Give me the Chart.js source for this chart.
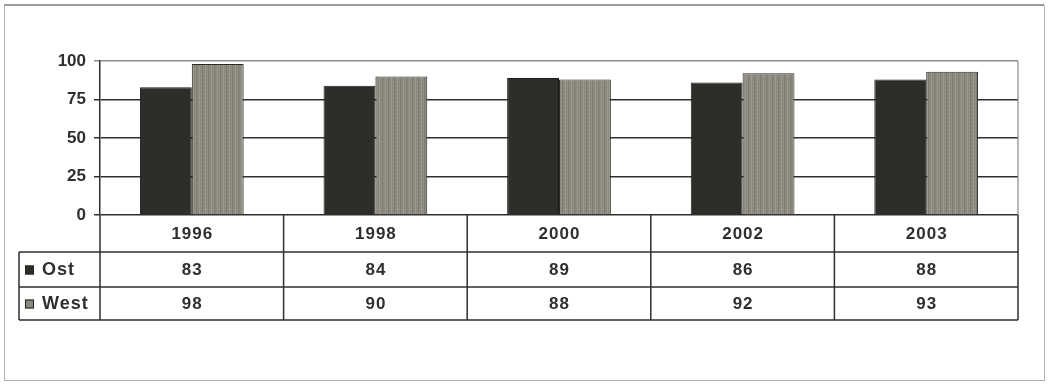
<!DOCTYPE html>
<html>
<head>
<meta charset="utf-8">
<script src="https://cdn.jsdelivr.net/npm/chart.js@4/dist/chart.umd.min.js"></script>
<style>
  html, body { margin: 0; padding: 0; background: #fff; }
  #wrap { position: relative; width: 1048px; height: 385px; }
</style>
</head>
<body>
<div id="wrap"><canvas id="c"></canvas></div>
<script>
const years = ['1996', '1998', '2000', '2002', '2003'];
const ostValues = [83, 84, 89, 86, 88];
const westValues = [98, 90, 88, 92, 93];
const seriesNames = ['Ost', 'West'];
const yTicks = [0, 25, 50, 75, 100];

const FONT = '"Liberation Sans", Arial, sans-serif';
const INK = '#2f2f2f';
const OST_COLOR = '#2e2d2a';
const WEST_COLOR = '#8c897d';

// fine vertical speckle for the West bars
function westPattern() {
  const p = document.createElement('canvas');
  p.width = 6; p.height = 4;
  const g = p.getContext('2d');
  g.fillStyle = WEST_COLOR;
  g.fillRect(0, 0, 6, 4);
  g.fillStyle = '#9a978b';
  g.fillRect(1, 0, 1, 4);
  g.fillStyle = '#7f7c71';
  g.fillRect(4, 0, 1, 4);
  g.fillStyle = '#a3a094';
  g.fillRect(3, 1, 1, 1);
  return g.createPattern(p, 'repeat');
}

// data table under the plot, aligned to the category scale
const tablePlugin = {
  id: 'dataTable',
  afterDraw(chart) {
    const ctx = chart.ctx;
    const x = chart.scales.x;
    const area = chart.chartArea;
    const n = years.length;
    const step = (area.right - area.left) / n;
    const top = area.bottom;
    const rowH = [37, 35, 33];
    const y1 = top + rowH[0];
    const y2 = y1 + rowH[1];
    const y3 = y2 + rowH[2];
    const legendLeft = 19;

    ctx.save();
    ctx.strokeStyle = INK;
    ctx.lineWidth = 1.5;
    ctx.beginPath();
    // vertical cell separators
    for (let i = 0; i <= n; i++) {
      const vx = area.left + i * step;
      ctx.moveTo(vx, top);
      ctx.lineTo(vx, y3);
    }
    // horizontal rows
    [y1, y2, y3].forEach(yy => {
      ctx.moveTo(legendLeft, yy);
      ctx.lineTo(area.right, yy);
    });
    ctx.moveTo(legendLeft, y1);
    ctx.lineTo(legendLeft, y3);
    ctx.stroke();

    // plot area right border
    ctx.strokeStyle = '#8a8a8a';
    ctx.lineWidth = 1.2;
    ctx.beginPath();
    ctx.moveTo(area.right, area.top);
    ctx.lineTo(area.right, area.bottom);
    ctx.stroke();

    ctx.fillStyle = INK;
    ctx.font = 'bold 17px ' + FONT;
    ctx.letterSpacing = '1px';
    ctx.textAlign = 'center';
    ctx.textBaseline = 'middle';
    years.forEach((yr, i) => {
      const cx = x.getPixelForValue(i) + 0.5;
      ctx.fillText(yr, cx, (top + y1) / 2 + 1);
      ctx.fillText(String(ostValues[i]), cx, (y1 + y2) / 2 + 1);
      ctx.fillText(String(westValues[i]), cx, (y2 + y3) / 2 + 1);
    });

    // series keys
    ctx.textAlign = 'left';
    ctx.font = 'bold 18px ' + FONT;
    const rows = [(y1 + y2) / 2, (y2 + y3) / 2];
    const keyFills = [OST_COLOR, WEST_COLOR];
    rows.forEach((ry, k) => {
      ctx.fillStyle = keyFills[k];
      ctx.fillRect(25, ry - 4, 9, 9);
      ctx.strokeStyle = '#222';
      ctx.lineWidth = 1;
      ctx.strokeRect(25.5, ry - 3.5, 8, 8);
      ctx.fillStyle = INK;
      ctx.fillText(seriesNames[k], 42, ry + 1);
    });
    ctx.letterSpacing = '0px';

    // outer frame
    ctx.strokeStyle = '#9d9d9d';
    ctx.lineWidth = 2;
    ctx.beginPath();
    ctx.moveTo(4, 5);
    ctx.lineTo(1044, 5);
    ctx.stroke();
    ctx.lineWidth = 1;
    ctx.strokeStyle = '#b0b0b0';
    ctx.beginPath();
    ctx.moveTo(4.5, 5);
    ctx.lineTo(4.5, 381);
    ctx.moveTo(1044.5, 5);
    ctx.lineTo(1044.5, 381);
    ctx.moveTo(4, 380.5);
    ctx.lineTo(1045, 380.5);
    ctx.stroke();
    ctx.restore();
  }
};

new Chart(document.getElementById('c'), {
  type: 'bar',
  data: {
    labels: years,
    datasets: [
      {
        label: seriesNames[0],
        data: ostValues,
        backgroundColor: OST_COLOR,
        borderColor: '#1c1c1a',
        borderWidth: 1
      },
      {
        label: seriesNames[1],
        data: westValues,
        backgroundColor: westPattern(),
        borderColor: '#2a2a28',
        borderWidth: 1
      }
    ]
  },
  options: {
    responsive: true,
    maintainAspectRatio: false,
    animation: false,
    layout: { padding: { left: 0, right: 30, top: 61, bottom: 170 } },
    plugins: { legend: { display: false }, tooltip: { enabled: false } },
    datasets: { bar: { barPercentage: 1, categoryPercentage: 0.565 } },
    scales: {
      x: { display: false },
      y: {
        min: 0,
        max: 100,
        afterFit(scale) { scale.width = 100; },
        afterBuildTicks(scale) { scale.ticks = yTicks.map(v => ({ value: v })); },
        border: { display: true, color: INK, width: 1.5 },
        grid: {
          color: ctx => (ctx.tick && ctx.tick.value === 100 ? '#8a8a8a' : INK),
          lineWidth: 1.5,
          drawTicks: true,
          tickLength: 6
        },
        ticks: {
          color: INK,
          padding: 8,
          font: { family: FONT, size: 17, weight: 'bold' }
        }
      }
    }
  },
  plugins: [tablePlugin]
});
</script>
</body>
</html>
